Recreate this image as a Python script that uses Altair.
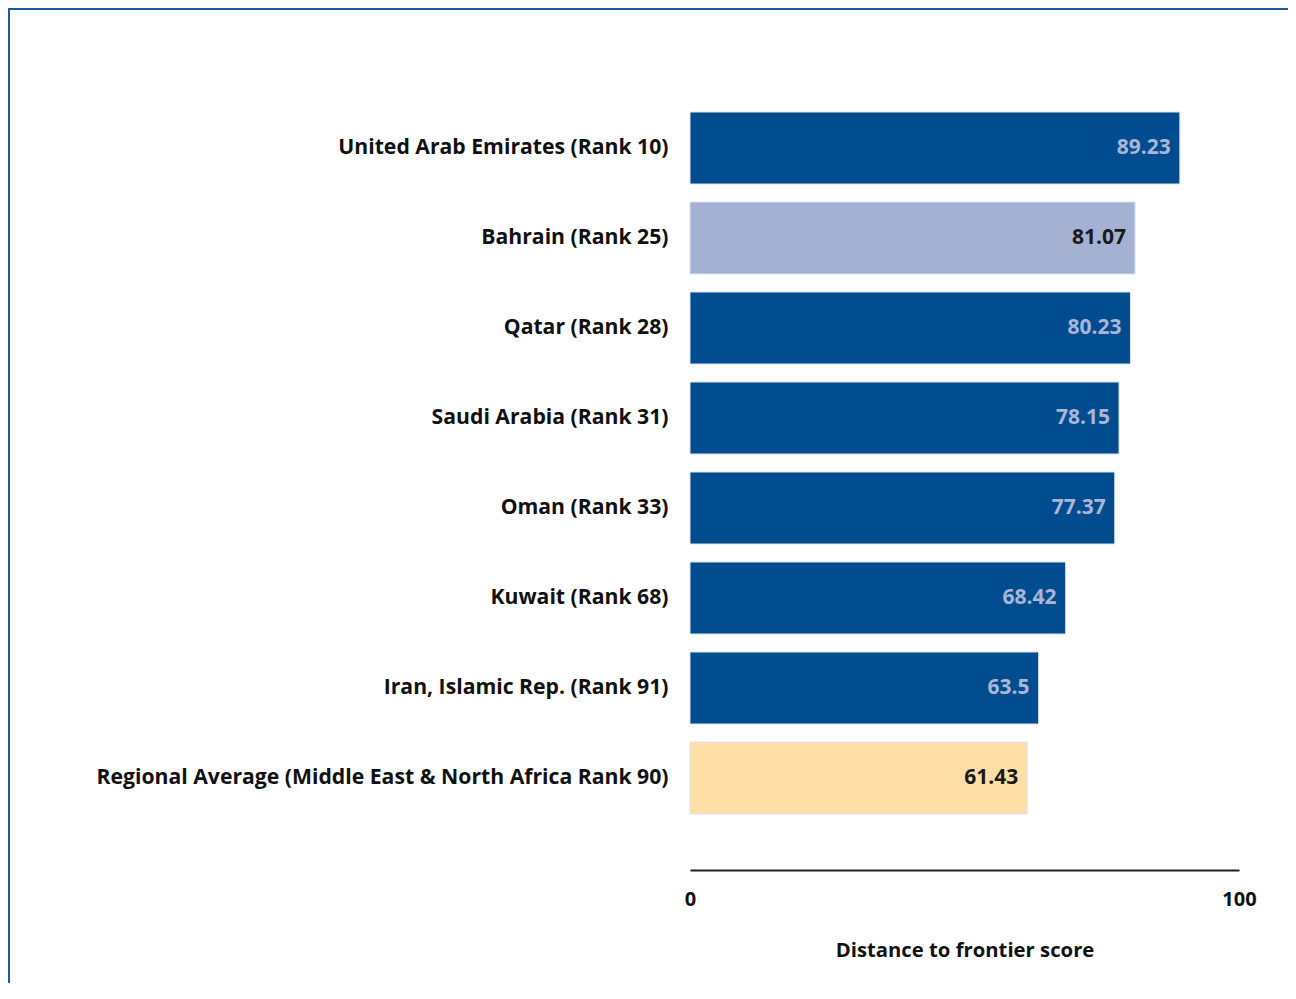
import altair as alt
import pandas as pd

economies = [
    "United Arab Emirates (Rank 10)",
    "Bahrain (Rank 25)",
    "Qatar (Rank 28)",
    "Saudi Arabia (Rank 31)",
    "Oman (Rank 33)",
    "Kuwait (Rank 68)",
    "Iran, Islamic Rep. (Rank 91)",
    "Regional Average (Middle East & North Africa Rank 90)",
]
scores = [89.23, 81.07, 80.23, 78.15, 77.37, 68.42, 63.5, 61.43]
groups = ["comparator", "Bahrain", "comparator", "comparator", "comparator",
          "comparator", "comparator", "region"]
score_labels = ["89.23", "81.07", "80.23", "78.15", "77.37", "68.42", "63.5", "61.43"]

df = pd.DataFrame({"economy": economies, "score": scores, "group": groups,
                   "label": score_labels})

FONT = "Open Sans"
FS = 21.2
bar_dom = ["comparator", "Bahrain", "region"]
bar_col = ["#004C8E", "#A5B1D3", "#FFDFA6"]
txt_col = ["#A9B6D8", "#1A1A1A", "#1A1A1A"]

y_enc = alt.Y("economy:N", sort=economies, title=None,
              scale=alt.Scale(paddingInner=0.2, paddingOuter=0.1),
              axis=alt.Axis(domain=False, ticks=False, labelPadding=22,
                            labelFont=FONT, labelFontSize=FS, labelFontWeight="bold",
                            labelColor="#111111", labelLimit=700))
x_enc = alt.X("score:Q", scale=alt.Scale(domain=[0, 100]),
              title="Distance to frontier score",
              axis=alt.Axis(values=[0, 100], grid=False, ticks=False, offset=47,
                            domainColor="#222222", domainWidth=2,
                            labelFlush=False, labelPadding=19,
                            labelFont=FONT, labelFontSize=20, labelFontWeight="bold",
                            labelColor="#111111",
                            titleFont=FONT, titleFontSize=20.3, titleFontWeight="bold",
                            titleColor="#111111", titlePadding=31))

bars = alt.Chart(df).mark_bar(stroke="#DDE3EE", strokeWidth=1).encode(
    x=x_enc, y=y_enc,
    color=alt.Color("group:N", scale=alt.Scale(domain=bar_dom, range=bar_col), legend=None),
)

texts = alt.Chart(df).mark_text(align="right", baseline="middle", dx=-9,
                                font=FONT, fontSize=21, fontWeight="bold").encode(
    x="score:Q", y=alt.Y("economy:N", sort=economies),
    text="label:N",
    color=alt.Color("group:N", scale=alt.Scale(domain=bar_dom, range=txt_col), legend=None),
)

frame_col = "#1F5AA0"
frame_top = alt.Chart(df.head(1)).mark_rule(color=frame_col, strokeWidth=2).encode(
    x=alt.value(-682), x2=alt.value(700), y=alt.value(-94))
frame_left = alt.Chart(df.head(1)).mark_rule(color=frame_col, strokeWidth=2).encode(
    x=alt.value(-681), y=alt.value(-95), y2=alt.value(900))

chart = alt.layer(frame_top, frame_left, bars, texts).resolve_scale(
    color="independent"
).properties(
    width=549, height=720,
    background="white",
    padding={"left": 682, "top": 95, "right": 49, "bottom": 160},
    autosize=alt.AutoSizeParams(type="none"),
).configure_view(strokeWidth=0, stroke="transparent")

chart.save("out.html", embed_options={"renderer": "svg", "actions": False})
